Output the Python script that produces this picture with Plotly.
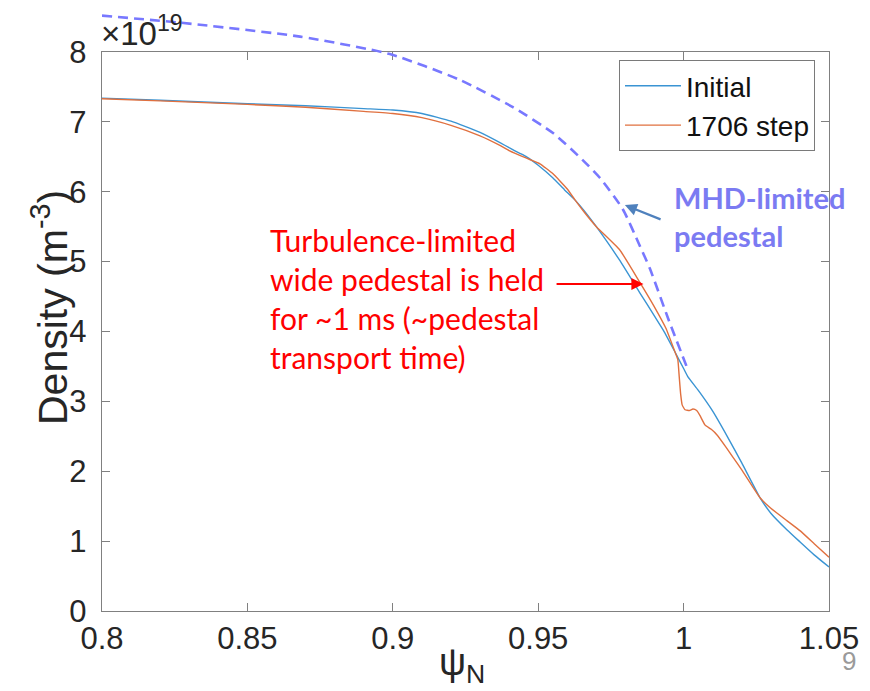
import plotly.graph_objects as go

# ---------------- data (density in units of 1e19 m^-3) ----------------
psi_init = [0.80, 0.82, 0.85, 0.87, 0.89, 0.90, 0.91, 0.92, 0.93, 0.937, 0.94, 0.9437,
            0.946, 0.95, 0.955, 0.959, 0.9627, 0.966, 0.97, 0.978, 0.985, 0.99, 0.993,
            0.997, 1.0, 1.0015, 1.005, 1.01, 1.015, 1.02, 1.0263, 1.03, 1.0356,
            1.04, 1.045, 1.05]
ne_init = [7.34, 7.31, 7.26, 7.23, 7.19, 7.17, 7.12, 7.01, 6.85, 6.70, 6.63, 6.55,
           6.50, 6.38, 6.20, 6.03, 5.88, 5.72, 5.50, 5.02, 4.55, 4.22, 4.02,
           3.71, 3.47, 3.35, 3.16, 2.86, 2.50, 2.12, 1.62, 1.40, 1.16,
           0.99, 0.80, 0.63]

psi_step = [0.80, 0.82, 0.85, 0.87, 0.89, 0.90, 0.91, 0.92, 0.93, 0.937, 0.94, 0.946,
            0.9506, 0.955, 0.96, 0.9627, 0.966, 0.97, 0.978, 0.985, 0.99, 0.994, 0.997,
            0.998, 0.9985, 0.999, 0.9995, 1.0005, 1.002, 1.0032, 1.0045, 1.0056, 1.0074,
            1.0095, 1.0115, 1.0145, 1.017, 1.02, 1.0263, 1.03, 1.0356, 1.04, 1.045, 1.05]
ne_step = [7.33, 7.30, 7.25, 7.21, 7.15, 7.12, 7.06, 6.95, 6.80, 6.66, 6.59, 6.48,
           6.40, 6.26, 6.04, 5.88, 5.70, 5.50, 5.17, 4.70, 4.35, 4.04, 3.71,
           3.60, 3.35, 3.10, 2.95, 2.88, 2.87, 2.89, 2.87, 2.80, 2.66,
           2.60, 2.52, 2.35, 2.20, 2.02, 1.62, 1.47, 1.29, 1.15, 0.96, 0.77]

psi_mhd = [0.80, 0.8268, 0.8681, 0.8990, 0.9231, 0.9413, 0.9551, 0.9654, 0.9712,
           0.9791, 0.985, 0.9884, 0.995, 1.0015]
ne_mhd = [8.52, 8.42, 8.22, 7.97, 7.60, 7.21, 6.84, 6.45, 6.20,
          5.75, 5.22, 4.90, 4.15, 3.45]

x_ticks = [0.8, 0.85, 0.9, 0.95, 1.0, 1.05]
x_ticklabels = ["0.8", "0.85", "0.9", "0.95", "1", "1.05"]
y_ticks = [0, 1, 2, 3, 4, 5, 6, 7, 8]
y_ticklabels = ["0", "1", "2", "3", "4", "5", "6", "7", "8"]

# ---------------- layout geometry ----------------
W, H = 870, 691
ML, MR, MT, MB = 102, 41, 5, 80
PW = W - ML - MR          # 727
PH = H - MT - MB          # 606
AX_TOP_PX = 52
main_top = (H - MB - AX_TOP_PX) / PH


def px2x(px):
    return (px - ML) / PW


def py2y(py):
    return (H - MB - py) / PH


AXC = "#808080"
TXT = "#262626"
FONT = "Liberation Sans"

fig = go.Figure()
fig.add_trace(go.Scatter(x=psi_init, y=ne_init, mode="lines", name="Initial",
                         line=dict(color="#3a94d3", width=1.4, shape="spline",
                                   smoothing=0.4)))
fig.add_trace(go.Scatter(x=psi_step, y=ne_step, mode="lines", name="1706 step",
                         line=dict(color="#e0703f", width=1.4, shape="spline",
                                   smoothing=0.4)))
fig.add_trace(go.Scatter(x=psi_mhd, y=ne_mhd, mode="lines", showlegend=False,
                         xaxis="x2", yaxis="y2",
                         line=dict(color="#7878ff", width=2.6, dash="10px,6px",
                                   shape="spline", smoothing=0.6)))

axis_common = dict(ticks="inside", ticklen=8, tickcolor=AXC, tickwidth=1.2,
                   showline=True, linecolor=AXC, linewidth=1.4, mirror="ticks",
                   showgrid=False, zeroline=False, automargin=False,
                   tickfont=dict(family=FONT, size=31, color=TXT))

fig.update_layout(
    width=W, height=H,
    margin=dict(l=ML, r=MR, t=MT, b=MB, autoexpand=False),
    paper_bgcolor="white", plot_bgcolor="rgba(0,0,0,0)",
    xaxis=dict(range=[0.8, 1.05], domain=[0, 1], tickvals=x_ticks,
               ticktext=x_ticklabels, **axis_common),
    yaxis=dict(range=[0, 8], domain=[0, main_top], tickvals=y_ticks,
               ticktext=y_ticklabels, ticklabelstandoff=8, **axis_common),
    xaxis2=dict(range=[0.8, 1.05], domain=[0, 1], anchor="y2", visible=False,
                automargin=False),
    yaxis2=dict(range=[0, 8 / main_top], domain=[0, 1], anchor="x2", visible=False,
                automargin=False),
    legend=dict(x=px2x(815), y=py2y(60), xanchor="right", yanchor="top",
                bgcolor="white", bordercolor="#7a7a7a", borderwidth=1,
                font=dict(family=FONT, size=28, color="#111111"),
                tracegroupgap=0, itemwidth=56),
    showlegend=True,
)

annotations = [
    # exponent label
    dict(x=px2x(99), y=py2y(54), xref="paper", yref="paper", xanchor="left",
         yanchor="bottom", showarrow=False, text="×10<sup>19</sup>",
         font=dict(family=FONT, size=33, color=TXT)),
    # y label
    dict(x=px2x(50), y=py2y(308), xref="paper", yref="paper", xanchor="center",
         yanchor="middle", showarrow=False, textangle=-90,
         text="Density (m<sup>-3</sup>)",
         font=dict(family=FONT, size=41, color=TXT)),
    # x label
    dict(x=px2x(462), y=py2y(665), xref="paper", yref="paper", xanchor="center",
         yanchor="middle", showarrow=False, text="ψ<sub>N</sub>",
         font=dict(family=FONT, size=38, color=TXT)),
    # red text
    dict(x=px2x(268), y=py2y(220), xref="paper", yref="paper", xanchor="left",
         yanchor="top", showarrow=False, align="left",
         text="Turbulence-limited<br>wide pedestal is held<br>for ~1 ms (~pedestal<br>transport time)",
         font=dict(family="Lato", size=30, color="#ff0000")),
    # red arrow
    dict(x=0.9862, y=4.68, ax=0.9558, ay=4.68, xref="x", yref="y", axref="x", ayref="y",
         showarrow=True, arrowhead=2, arrowsize=1.1, arrowwidth=2.2,
         arrowcolor="#ff0000", standoff=0, text=""),
    # MHD text
    dict(x=px2x(672), y=py2y(178), xref="paper", yref="paper", xanchor="left",
         yanchor="top", showarrow=False, align="left",
         text="<b>MHD-limited<br>pedestal</b>",
         font=dict(family="Lato", size=29, color="#7b7bf2")),
    # blue arrow
    dict(x=0.9798, y=5.81, ax=0.9926, ay=5.596, xref="x", yref="y", axref="x", ayref="y",
         showarrow=True, arrowhead=2, arrowsize=1.1, arrowwidth=2.2,
         arrowcolor="#4f81bd", standoff=0, text=""),
    # slide number
    dict(x=px2x(849), y=py2y(661), xref="paper", yref="paper", xanchor="center",
         yanchor="middle", showarrow=False, text="9",
         font=dict(family=FONT, size=26, color="#9a9a9a")),
]
fig.update_layout(annotations=annotations)

fig.write_html("out.html")
